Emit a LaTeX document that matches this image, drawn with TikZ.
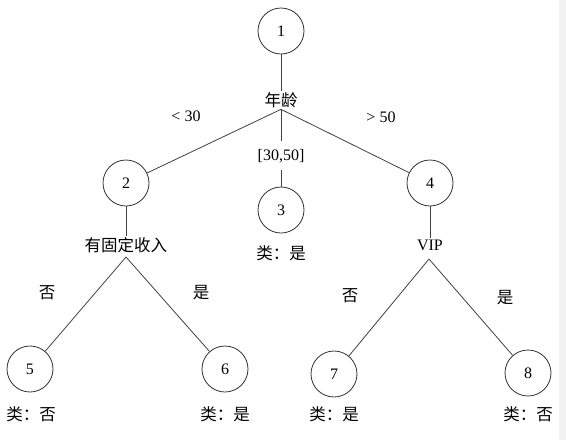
\documentclass[tikz,border=0pt]{standalone}
\usepackage{fontspec}
\setmainfont{Liberation Serif}
\newfontfamily\cjk{Noto Sans CJK SC}
\usepackage{tikz}
\usetikzlibrary{positioning}

\begin{document}
\begin{tikzpicture}[
x=1pt, y=-1pt,
every node/.style={font=\fontsize{16}{19}\selectfont},
state/.style={draw=black!80, circle, minimum size=46pt, inner sep=0pt, line width=0.8pt},
attr/.style={inner sep=1.5pt, font=\cjk\fontsize{16.5}{19}\selectfont},
cls/.style={font=\cjk\fontsize{16.5}{19}\selectfont},
cond/.style={font=\fontsize{16}{19}\selectfont},
ans/.style={font=\cjk\fontsize{16.5}{19}\selectfont},
rangelbl/.style={fill=white, inner xsep=1pt, inner ysep=8pt},
link/.style={draw=black!75, line width=0.8pt}
]
\useasboundingbox (0,0) rectangle (566,440);
\fill[gray!10] (559,0) rectangle (566,440);

% root and first split
\node[state] (n1) at (281,31) {1};
\node[attr] (age) at (281,100) {年龄};
\node[state] (n2) at (126,183) {2};
\node[state] (n3) at (281,210) {3};
\node[state] (n4) at (430,183) {4};
\node[cond] (lt) at (186,116) {< 30};
\node[cond] (gt) at (381,117) {> 50};
\node[cls] (c3) at (281,253) {类：是};

% second level
\node[attr] (income) at (126,245) {有固定收入};
\node[attr, font=\fontsize{16}{19}\selectfont] (vip) at (430,245) {VIP};
\coordinate (incomeroot) at (126,257);
\coordinate (viproot) at (429,259);

\node[state] (n5) at (30,369) {5};
\node[state] (n6) at (225,369) {6};
\node[state] (n7) at (334,374) {7};
\node[state] (n8) at (528,373) {8};

\node[ans] (no1) at (47,293) {否};
\node[ans] (yes1) at (201,293) {是};
\node[ans] (no2) at (350,296) {否};
\node[ans] (yes2) at (505,298) {是};

\node[cls] (c5) at (31,414) {类：否};
\node[cls] (c6) at (225,414) {类：是};
\node[cls] (c7) at (334,414) {类：是};
\node[cls] (c8) at (528,414) {类：否};

\draw[link] (n1) -- (age);
\draw[link] (age.south) -- (n2);
\draw[link] (age.south) -- node[rangelbl, pos=0.6] (mid) {[30,50]} (n3);
\draw[link] (age.south) -- (n4);
\draw[link] (n2) -- (income);
\draw[link] (n4) -- (vip);
\draw[link] (incomeroot) -- (n5);
\draw[link] (incomeroot) -- (n6);
\draw[link] (viproot) -- (n7);
\draw[link] (viproot) -- (n8);
\end{tikzpicture}
\end{document}
